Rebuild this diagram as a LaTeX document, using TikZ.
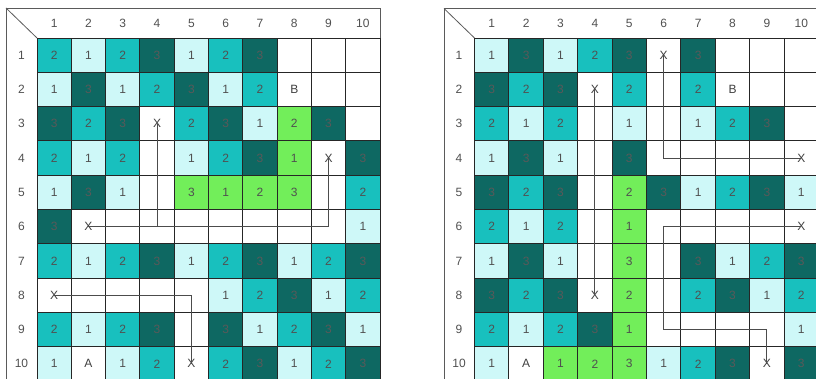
\documentclass[tikz,border=0pt]{standalone}
\usepackage{fontspec}
\setmainfont{Liberation Sans}
\definecolor{cdark}{RGB}{14,104,98}
\definecolor{cmed}{RGB}{24,192,190}
\definecolor{clight}{RGB}{206,248,248}
\definecolor{cgreen}{RGB}{114,238,90}
\definecolor{ctext}{RGB}{80,80,80}
\definecolor{cframe}{RGB}{90,90,90}
\begin{document}
\begin{tikzpicture}[x=1pt,y=-1pt,
  cell/.style={draw=black!85,line width=0.9pt,minimum size=34.3pt,inner sep=0pt,
    text=ctext,font=\fontsize{12}{12}\selectfont},
  l/.style={fill=clight}, m/.style={fill=cmed}, d/.style={fill=cdark,text=black!65},
  g/.style={fill=cgreen}, w/.style={fill=white,text=black!75},
  hdr/.style={text=ctext,font=\fontsize{12}{12}\selectfont,inner sep=0pt},
  frame/.style={draw=cframe,line width=0.8pt},
  route/.style={draw=black!70,line width=0.9pt}]
\useasboundingbox (0,0) rectangle (816,379);
\clip (0,0) rectangle (816,379);
% ---------- left grid ----------
\coordinate (LTL) at (6,8);
\coordinate (LTR) at (380,8);
\coordinate (LBL) at (6,390);
\coordinate (LIN) at (37,38);
\draw[frame] (LBL) -- (LTL) -- (LTR) -- (380,38);
\draw[frame] (LTL) -- (LIN);
\foreach \c in {1,...,10}{
  \node[hdr] (LH-\c) at ({37+(\c-0.5)*34.3},23) {\c};
  \node[hdr] (LV-\c) at (21.5,{38+(\c-0.5)*34.3}) {\c};
}
\foreach \row [count=\r] in {
 {m/2,l/1,m/2,d/3,l/1,m/2,d/3,w/{},w/{},w/{}},
 {l/1,d/3,l/1,m/2,d/3,l/1,m/2,w/B,w/{},w/{}},
 {d/3,m/2,d/3,w/X,m/2,d/3,l/1,g/2,d/3,w/{}},
 {m/2,l/1,m/2,w/{},l/1,m/2,d/3,g/1,w/X,d/3},
 {l/1,d/3,l/1,w/{},g/3,g/1,g/2,g/3,w/{},m/2},
 {d/3,w/X,w/{},w/{},w/{},w/{},w/{},w/{},w/{},l/1},
 {m/2,l/1,m/2,d/3,l/1,m/2,d/3,l/1,m/2,d/3},
 {w/X,w/{},w/{},w/{},w/{},l/1,m/2,d/3,l/1,m/2},
 {m/2,l/1,m/2,d/3,w/{},d/3,l/1,m/2,d/3,l/1},
 {l/1,w/A,l/1,m/2,w/X,m/2,d/3,l/1,m/2,d/3}}{
  \foreach \s/\t [count=\c] in \row {
    \node[cell,\s] (L-\r-\c) at ({37+(\c-0.5)*34.3},{38+(\r-0.5)*34.3}) {\t};
  }
}
\draw[route] (L-6-2.center) -| (L-4-9.center);
\draw[route] (L-3-4.center) -- (L-6-4.center);
\draw[route] (L-8-1.center) -| (L-10-5.center);
% ---------- right grid ----------
\coordinate (RTL) at (444,8.5);
\coordinate (RTR) at (830,8.5);
\coordinate (RBL) at (444,390);
\coordinate (RIN) at (474.5,38);
\draw[frame] (RBL) -- (RTL) -- (RTR);
\draw[frame] (RTL) -- (RIN);
\foreach \c in {1,...,10}{
  \node[hdr] (RH-\c) at ({474.5+(\c-0.5)*34.4},23) {\c};
  \node[hdr] (RV-\c) at (459,{38+(\c-0.5)*34.3}) {\c};
}
\foreach \row [count=\r] in {
 {l/1,d/3,l/1,m/2,d/3,w/X,d/3,w/{},w/{},w/{}},
 {d/3,m/2,d/3,w/X,m/2,w/{},m/2,w/B,w/{},w/{}},
 {m/2,l/1,m/2,w/{},l/1,w/{},l/1,m/2,d/3,w/{}},
 {l/1,d/3,l/1,w/{},d/3,w/{},w/{},w/{},w/{},w/X},
 {d/3,m/2,d/3,w/{},g/2,d/3,l/1,m/2,d/3,l/1},
 {m/2,l/1,m/2,w/{},g/1,w/{},w/{},w/{},w/{},w/X},
 {l/1,d/3,l/1,w/{},g/3,w/{},d/3,l/1,m/2,d/3},
 {d/3,m/2,d/3,w/X,g/2,w/{},m/2,d/3,l/1,m/2},
 {m/2,l/1,m/2,d/3,g/1,w/{},w/{},w/{},w/{},l/1},
 {l/1,w/A,g/1,g/2,g/3,l/1,m/2,d/3,w/X,d/3}}{
  \foreach \s/\t [count=\c] in \row {
    \node[cell,\s,minimum width=34.4pt] (R-\r-\c) at ({474.5+(\c-0.5)*34.4},{38+(\r-0.5)*34.3}) {\t};
  }
}
\draw[route] (R-1-6.center) |- (R-4-10.center);
\draw[route] (R-2-4.center) -- (R-8-4.center);
\draw[route] (R-6-10.center) -| (R-9-6.center) -| (R-10-9.center);
\end{tikzpicture}
\end{document}
